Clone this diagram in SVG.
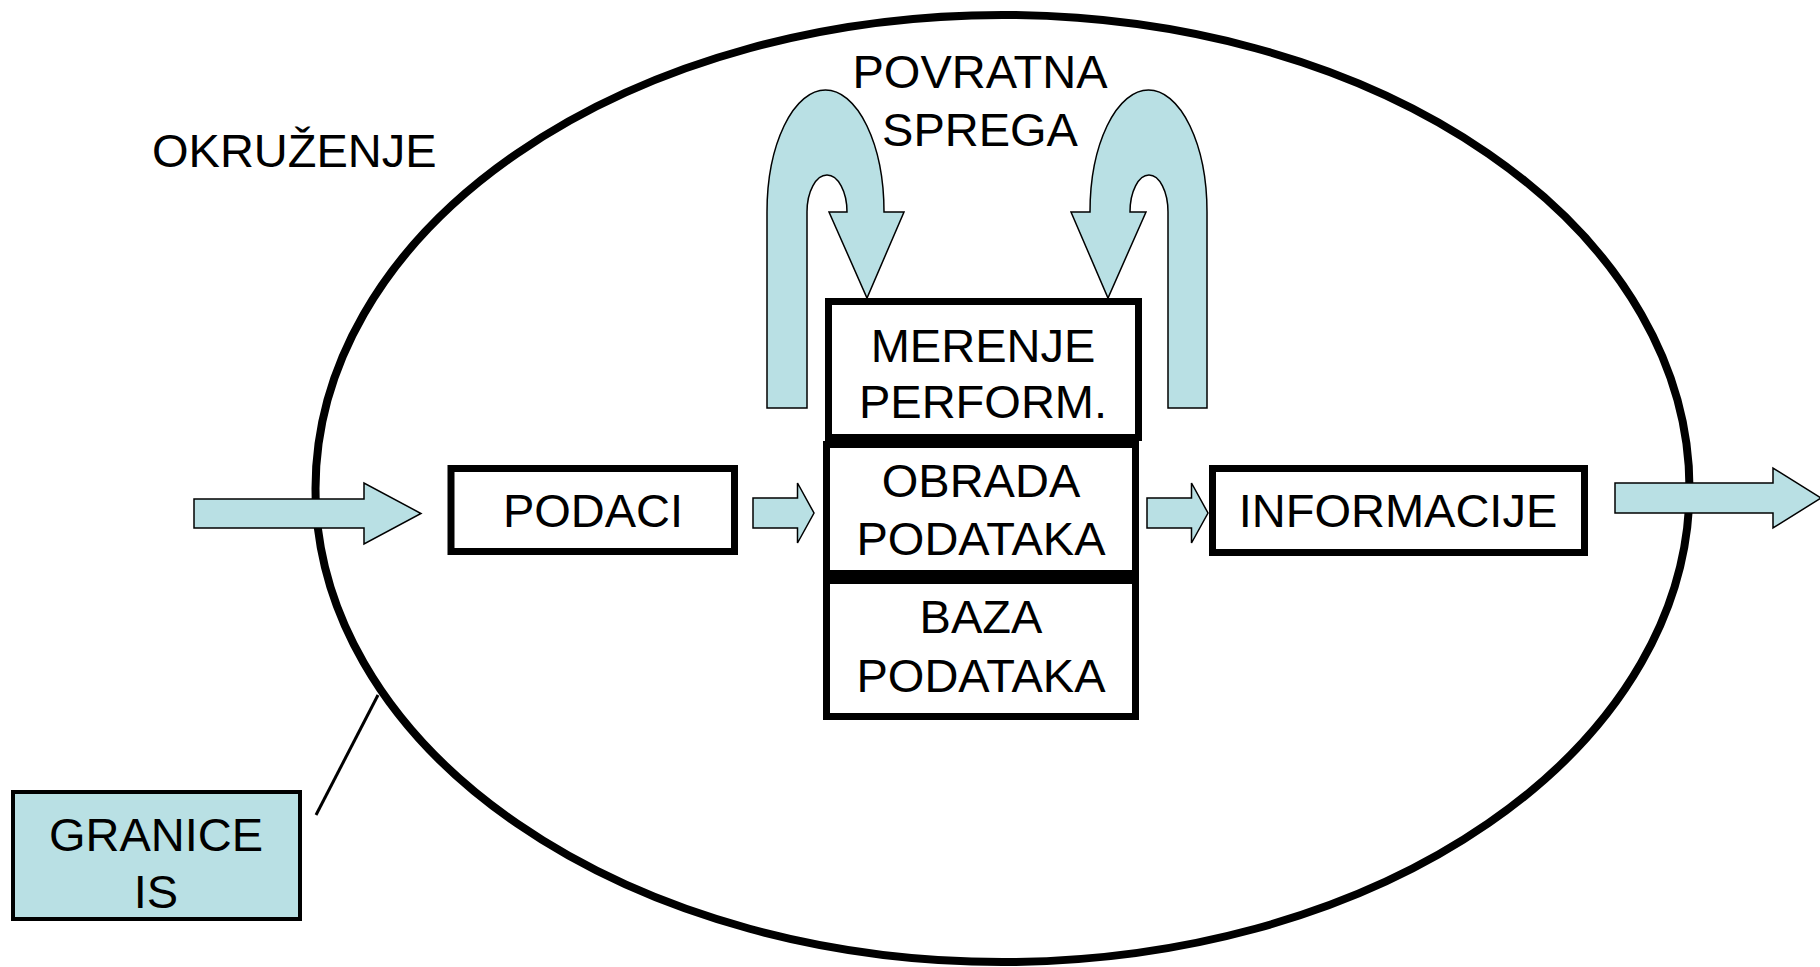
<svg xmlns="http://www.w3.org/2000/svg" width="1820" height="967" viewBox="0 0 1820 967">
<style>
text{font-family:"Liberation Sans",Arial,sans-serif;font-size:47px;fill:#000;text-anchor:middle}
.box{fill:#fff;stroke:#000;stroke-width:7}
.arr{fill:#B9E0E4;stroke:#000;stroke-width:1.5;stroke-linejoin:miter}
</style>
<rect width="1820" height="967" fill="#fff"/>
<g id="boundary">
<ellipse cx="1002.5" cy="488.5" rx="687" ry="473.5" fill="none" stroke="#000" stroke-width="8"/>
</g>
<g id="okruzenje">
<text x="152" y="167" style="text-anchor:start">OKRUŽENJE</text>
</g>
<g id="povratna-sprega">
<text x="980" y="88">POVRATNA</text>
<text x="980" y="146">SPREGA</text>
</g>
<g id="connectors">
<path id="fb-left" class="arr" d="M767,408 L767,212 A58.5,122 0 0 1 884,212 L904,212 L867,298 L829,212 L847,212 A20,37 0 0 0 807,212 L807,408 Z"/>
<path id="fb-right" class="arr" d="M1207,408 L1207,212 A58.5,122 0 0 0 1090,212 L1071,212 L1108,298 L1146,212 L1130,212 A19,37 0 0 1 1168,212 L1168,408 Z"/>
<polygon id="in-arrow" class="arr" points="194,499 364,499 364,483 421,513.5 364,544 364,528 194,528"/>
<polygon id="a-podaci-obrada" class="arr" points="753,498 797.5,498 797.5,483 814,513 797.5,543 797.5,528 753,528"/>
<polygon id="a-obrada-info" class="arr" points="1147,498 1191.5,498 1191.5,483 1208,513 1191.5,543 1191.5,528 1147,528"/>
<polygon id="out-arrow" class="arr" points="1615,483 1773,483 1773,468 1821,498 1773,528 1773,513 1615,513"/>
<line id="granice-leader" x1="316" y1="815" x2="378" y2="695" stroke="#000" stroke-width="3"/>
</g>
<g id="podaci">
<rect class="box" x="451" y="468.5" width="283.5" height="83"/>
<text x="593" y="527">PODACI</text>
</g>
<g id="merenje">
<rect class="box" x="828.5" y="301.5" width="310" height="136"/>
<text x="983" y="362">MERENJE</text>
<text x="983" y="418">PERFORM.</text>
</g>
<g id="obrada">
<rect class="box" x="826.5" y="444.5" width="309" height="129"/>
<text x="981" y="497">OBRADA</text>
<text x="981" y="555">PODATAKA</text>
</g>
<g id="baza">
<rect class="box" x="826.5" y="580.5" width="309" height="136"/>
<text x="981" y="633">BAZA</text>
<text x="981" y="692">PODATAKA</text>
</g>
<g id="informacije">
<rect class="box" x="1212.5" y="468.5" width="372" height="84"/>
<text x="1398" y="527">INFORMACIJE</text>
</g>
<g id="granice">
<rect x="13" y="792" width="287" height="127" fill="#B9E0E4" stroke="#000" stroke-width="4"/>
<text x="156" y="851">GRANICE</text>
<text x="156" y="908">IS</text>
</g>
</svg>
